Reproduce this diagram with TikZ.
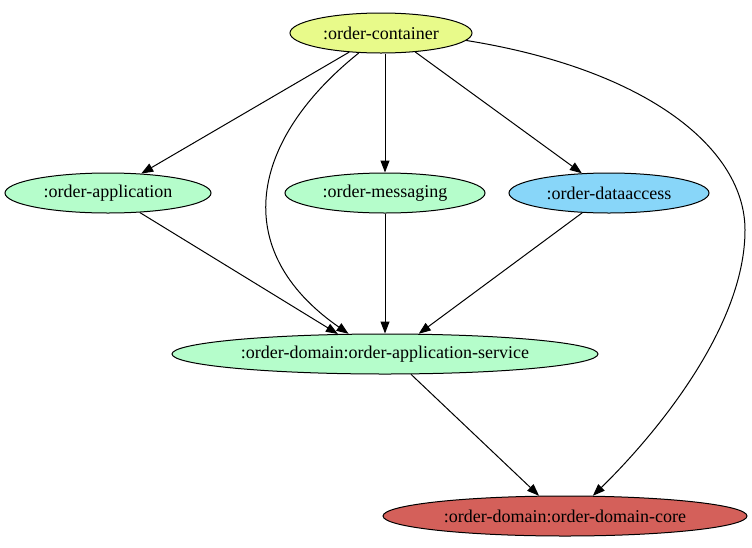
\documentclass[tikz,border=0pt]{standalone}
\usepackage{fontspec}
\setmainfont{Liberation Serif}
\usetikzlibrary{shapes.geometric,arrows.meta}
\definecolor{cyel}{HTML}{E8FA8A}
\definecolor{cgrn}{HTML}{B5FDCB}
\definecolor{cblu}{HTML}{88D6F9}
\definecolor{cred}{HTML}{D4605A}
\tikzset{
  mod/.style={ellipse, draw=black, line width=1pt, inner sep=0pt, minimum height=40pt, font=\fontsize{18}{20}\selectfont},
  dep/.style={line width=1pt, -{Triangle[length=12pt,width=9pt]}}
}
\begin{document}
\begin{tikzpicture}[x=1pt,y=-1pt]
\useasboundingbox (0,0) rectangle (752,547);
\node[mod, fill=cyel, minimum width=182pt] (c) at (381,33) {:order-container};
\node[mod, fill=cgrn, minimum width=206pt] (a) at (108,193) {:order-application};
\node[mod, fill=cgrn, minimum width=200pt] (m) at (385,193) {:order-messaging};
\node[mod, fill=cblu, minimum width=200pt] (d) at (609,193) {:order-dataaccess};
\node[mod, fill=cgrn, minimum width=426pt] (s) at (385,354) {:order-domain:order-application-service};
\node[mod, fill=cred, minimum width=364pt] (k) at (565,516) {:order-domain:order-domain-core};
\draw[dep] (c.211) -- (a);
\draw[dep] (c.south -| m.north) -- (m.north);
\draw[dep] (c.331) -- (d);
\draw[dep] (c.222) .. controls (250,140) and (228,250) .. (s.151);
\draw[dep] (c.-5) .. controls (650,70) and (745,150) .. (745,230) .. controls (745,330) and (650,440) .. (k.36);
\draw[dep] (a) -- (s.157);
\draw[dep] (m) -- (s);
\draw[dep] (d) -- (s.31);
\draw[dep] (s.322) -- (k.142);
\end{tikzpicture}
\end{document}
